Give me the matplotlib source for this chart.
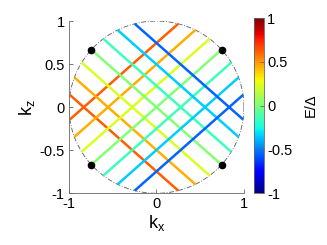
import numpy as np
import matplotlib
matplotlib.use('Agg')
import matplotlib.pyplot as plt

plt.rcParams['font.family'] = ['Liberation Sans', 'DejaVu Sans']

# line directions (angle of the SW-NE family, degrees)
theta_deg = 41.9
# perpendicular offsets of the lines and their energies E/Delta
offsets = [0.555, 0.37, 0.185, 0.0, -0.185, -0.37, -0.555]
energies = [0.62, 0.45, 0.22, 0.02, -0.15, -0.35, -0.55]
x_ticks = [-1, 0, 1]
z_ticks = [-1, -0.5, 0, 0.5, 1]
cbar_ticks = [-1, -0.5, 0, 0.5, 1]

th = np.deg2rad(theta_deg)
c, s = np.cos(th), np.sin(th)

fig = plt.figure(figsize=(3.27, 2.45), dpi=100)
ax = fig.add_axes([0.211, 0.211, 0.535, 0.703])
cmap = plt.get_cmap('jet')
norm = plt.Normalize(-1, 1)

# unit circle, dash-dot
phi = np.linspace(0, 2 * np.pi, 400)
ax.plot(np.cos(phi), np.sin(phi), color='0.35', lw=0.6, ls=(0, (6, 2, 1, 2)), zorder=1)

for d, e in zip(offsets, energies):
    h = np.sqrt(1 - d ** 2)
    col = cmap(norm(e))
    # SW-NE family: normal (-s, c)
    n1 = np.array([-s, c]); u1 = np.array([c, s])
    p = np.array([d * n1 - h * u1, d * n1 + h * u1])
    ax.plot(p[:, 0], p[:, 1], color=col, lw=1.8, solid_capstyle='butt', zorder=2)
    # NW-SE family (mirror z -> -z)
    p2 = p * np.array([1, -1])
    ax.plot(p2[:, 0], p2[:, 1], color=col, lw=1.8, solid_capstyle='butt', zorder=2)

ax.plot([c, -c, c, -c], [s, s, -s, -s], 'o', color='k', ms=4.5, zorder=3)

ax.set_xlim(-1, 1)
ax.set_ylim(-1, 1)
ax.set_xticks(x_ticks)
ax.set_xticklabels(['-1', '0', '1'])
ax.set_yticks(z_ticks)
ax.set_yticklabels(['-1', '-0.5', '0', '0.5', '1'])
for sp in ['top', 'right']:
    ax.spines[sp].set_visible(False)
for sp in ['left', 'bottom']:
    ax.spines[sp].set_color('0.4')
    ax.spines[sp].set_linewidth(0.6)
ax.tick_params(direction='in', length=3, width=0.6, color='0.4', labelsize=10.5, pad=3)
ax.set_xlabel('k$_\\mathregular{x}$', fontsize=13, labelpad=1)
ax.set_ylabel('k$_\\mathregular{z}$', fontsize=13, labelpad=2)

cax = fig.add_axes([0.777, 0.212, 0.031, 0.714])
sm = matplotlib.cm.ScalarMappable(norm=norm, cmap=cmap)
cb = fig.colorbar(sm, cax=cax, ticks=cbar_ticks)
cb.ax.set_yticklabels(['-1', '-0.5', '0', '0.5', '1'])
cb.ax.tick_params(direction='in', length=3, width=0.6, color='0.4', labelsize=10.5, pad=2)
cb.outline.set_linewidth(0.6)
cb.outline.set_edgecolor('0.4')
cb.set_label('E/Δ', fontsize=10.5, labelpad=8)

fig.savefig('out.png', dpi=100)
